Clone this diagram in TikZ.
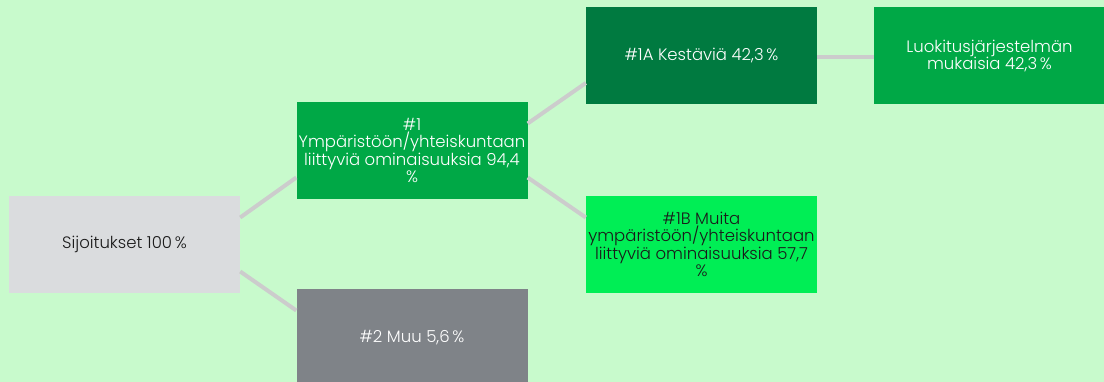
\documentclass[tikz,border=0pt]{standalone}
\usepackage{fontspec}
\setmainfont{Poppins}[UprightFont=* Light]
\definecolor{bg}{HTML}{C8FACC}
\definecolor{gA}{HTML}{00A846}
\definecolor{gDark}{HTML}{007A40}
\definecolor{gBright}{HTML}{00EE55}
\definecolor{grDark}{HTML}{7F8388}
\definecolor{grLight}{HTML}{DADCDE}
\definecolor{lineC}{HTML}{CCCCCC}
\definecolor{txtDark}{HTML}{1A1A1A}
\begin{document}
\begin{tikzpicture}[x=1pt,y=1pt,
  box/.style={rectangle, inner sep=0pt, minimum width=231pt, minimum height=97pt,
    align=center, font=\fontsize{16.5}{17.5}\selectfont},
  conn/.style={draw=lineC, line width=4pt}]
\fill[bg] (0,0) rectangle (1104,382);
\useasboundingbox (0,0) rectangle (1104,382);
\node[box, fill=grLight, text=txtDark] (s) at (124.5,137.5) {Sijoitukset 100\,\%};
\node[box, fill=gA, text=white] (n1) at (412,231.5) {\#1\\Ympäristöön/yhteiskuntaan\\liittyviä ominaisuuksia 94,4\\\%};
\node[box, fill=grDark, text=white] (n2) at (412,44.5) {\#2 Muu 5,6\,\%};
\node[box, fill=gDark, text=white] (n1a) at (701.5,326) {\#1A Kestäviä 42,3\,\%};
\node[box, fill=gA, text=white] (lk) at (989.5,326) {Luokitusjärjestelmän\\mukaisia 42,3\,\%};
\node[box, fill=gBright, text=txtDark] (n1b) at (701.5,137.5) {\#1B Muita\\ympäristöön/yhteiskuntaan\\liittyviä ominaisuuksia 57,7\\\%};
\draw[conn] ([yshift=27pt]s.east) -- ([yshift=-27pt]n1.west);
\draw[conn] ([yshift=-27pt]s.east) -- ([yshift=27pt]n2.west);
\draw[conn] ([yshift=27pt]n1.east) -- ([yshift=-27pt]n1a.west);
\draw[conn] ([yshift=-27pt]n1.east) -- ([yshift=27pt]n1b.west);
\draw[conn] ([yshift=-1pt]n1a.east) -- ([yshift=-1pt]lk.west);
\end{tikzpicture}
\end{document}
